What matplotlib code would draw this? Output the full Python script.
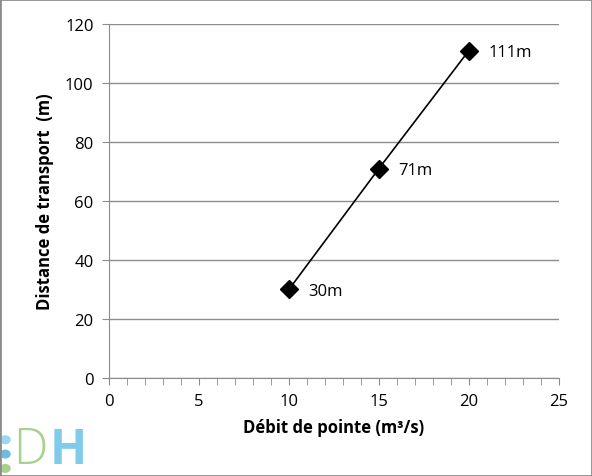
import numpy as np
import matplotlib.pyplot as plt
from matplotlib.ticker import MultipleLocator

debit = [10, 15, 20]
distance = [30, 71, 111]
etiquettes = ['30m', '71m', '111m']

plt.rcParams['font.family'] = ['Open Sans', 'DejaVu Sans']

fig = plt.figure(figsize=(5.92, 4.77), dpi=100)
ax = fig.add_axes([0.184, 0.2055, 0.76, 0.742])

ax.plot(debit, distance, color='black', lw=1.2, marker='D', ms=9, zorder=3)
for x, y, t in zip(debit, distance, etiquettes):
    ax.annotate(t, (x, y), xytext=(14, -1), textcoords='offset points',
                fontsize=12, va='center', ha='left')

ax.set_xlim(0, 25)
ax.set_ylim(0, 120)
ax.xaxis.set_major_locator(MultipleLocator(5))
ax.xaxis.set_minor_locator(MultipleLocator(1))
ax.yaxis.set_major_locator(MultipleLocator(20))
ax.grid(axis='y', color='#8c8c8c', lw=1)
ax.set_axisbelow(True)
for s in ['top', 'right']:
    ax.spines[s].set_visible(False)
ax.spines['left'].set_color('#8c8c8c')
ax.spines['bottom'].set_color('#8c8c8c')
ax.tick_params(axis='x', which='both', direction='out', color='#8c8c8c', length=5, labelsize=12, pad=6)
ax.tick_params(axis='y', length=5, color='#8c8c8c', labelsize=12, pad=6)

ax.set_xlabel('Débit de pointe (m³/s)', fontsize=12, fontweight='bold', labelpad=6)
ax.set_ylabel('Distance de transport  (m)', fontsize=12, fontweight='bold', labelpad=8)

# logo
fig.text(0.022, 0.002, 'D', fontsize=35, color='#a9d18e', fontweight='light', va='bottom')
fig.text(0.083, 0.002, 'H', fontsize=35, color='#7ecbea', fontweight='bold', va='bottom')
for yy, c in zip([0.076, 0.046, 0.016], ['#9dd6f0', '#6cbde0', '#a9d18e']):
    fig.patches.append(plt.Circle((0.009, yy), 0.008, transform=fig.transFigure, color=c))

fig.patches.append(plt.Rectangle((0, 0), 1, 1, transform=fig.transFigure,
                                 fill=False, ec='#8c8c8c', lw=2))
fig.savefig('out.png', dpi=100)
